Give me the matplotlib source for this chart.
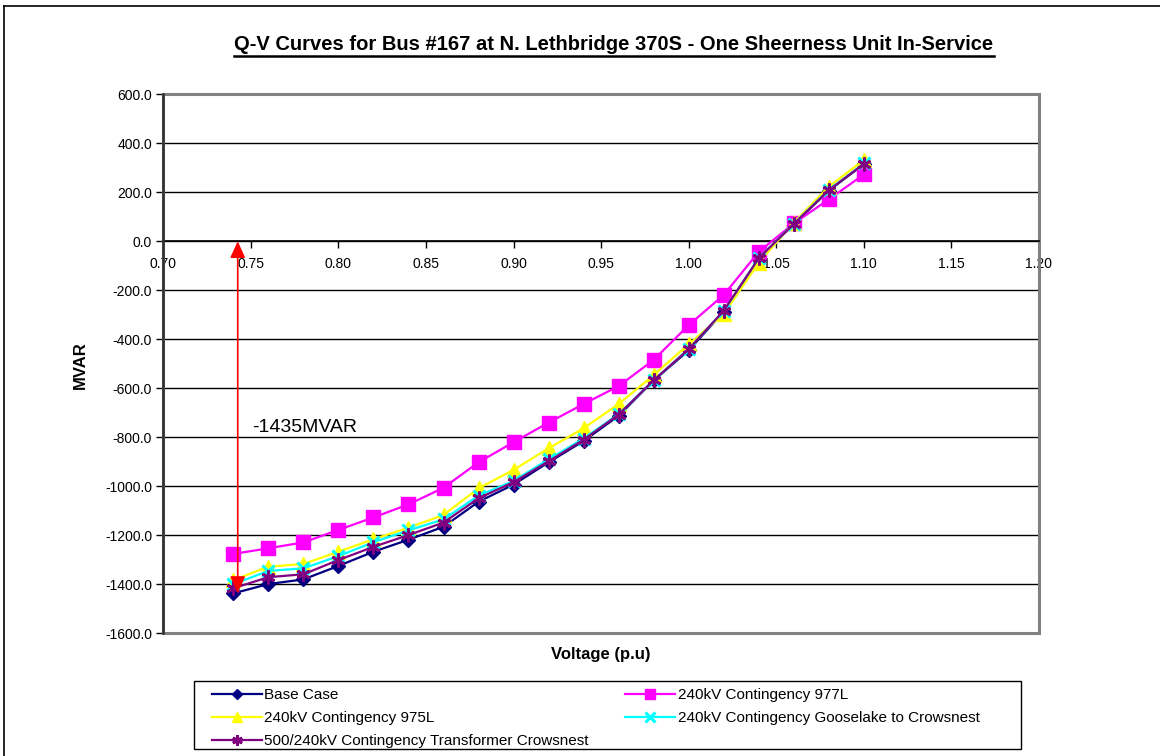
import matplotlib
matplotlib.use("Agg")
import matplotlib.pyplot as plt
from matplotlib.lines import Line2D
from matplotlib.patches import Rectangle

plt.rcParams['font.family'] = ['Liberation Sans', 'DejaVu Sans']

# ---- data ----
voltage = [0.74, 0.76, 0.78, 0.80, 0.82, 0.84, 0.86, 0.88, 0.90, 0.92,
           0.94, 0.96, 0.98, 1.00, 1.02, 1.04, 1.06, 1.08, 1.10]
base_case = [-1437, -1399, -1380, -1325, -1267, -1218, -1165, -1063, -993, -902,
             -815, -712, -568, -445, -287, -71, 70, 207, 315]
cont_977L = [-1276, -1253, -1229, -1178, -1127, -1074, -1006, -902, -820, -740,
             -664, -591, -484, -342, -219, -43, 73, 171, 273]
cont_975L = [-1383, -1328, -1317, -1267, -1216, -1169, -1117, -1008, -933, -845,
             -763, -664, -546, -420, -297, -87, 76, 223, 332]
cont_goose = [-1400, -1345, -1335, -1285, -1228, -1180, -1135, -1038, -978, -890,
              -805, -705, -568, -439, -284, -68, 72, 210, 318]
cont_xfmr = [-1416, -1371, -1359, -1301, -1247, -1199, -1148, -1049, -983, -898,
             -810, -707, -567, -440, -283, -69, 71, 209, 316]

labels = ["Base Case", "240kV Contingency 977L", "240kV Contingency 975L",
          "240kV Contingency Gooselake to Crowsnest",
          "500/240kV Contingency Transformer Crowsnest"]

y_ticks = [-1600, -1400, -1200, -1000, -800, -600, -400, -200, 0, 200, 400, 600]
x_ticks = [0.70, 0.75, 0.80, 0.85, 0.90, 0.95, 1.00, 1.05, 1.10, 1.15, 1.20]

arrow_v = 0.7425
arrow_q = -1435
annot_text = "-1435MVAR"

title = "Q-V Curves for Bus #167 at N. Lethbridge 370S - One Sheerness Unit In-Service"

# ---- figure ----
W, H = 1160, 756
fig = plt.figure(figsize=(W / 100, H / 100), dpi=100)
ax = fig.add_axes([163.3 / W, 1 - 633.3 / H, (1039 - 163.3) / W, (633.3 - 94.3) / H])

ax.set_xlim(0.70, 1.20)
ax.set_ylim(-1600, 600)

# grid
for yv in y_ticks:
    ax.axhline(yv, color='#000000', lw=1.0, zorder=1)

# plot border (gray)
ax.add_patch(Rectangle((0, 0), 1, 1, transform=ax.transAxes, fill=False,
                       edgecolor='#808080', lw=2.2, zorder=2, clip_on=False))

# series
h_base, = ax.plot(voltage, base_case, color='#000080', lw=1.6, marker='D', ms=7,
                  mfc='#000080', mec='#000080', zorder=3)
h_977, = ax.plot(voltage, cont_977L, color='#FF00FF', lw=1.6, marker='s', ms=10,
                 mfc='#FF00FF', mec='#FF00FF', zorder=3)
h_975, = ax.plot(voltage, cont_975L, color='#FFFF00', lw=1.6, marker='^', ms=10,
                 mfc='#FFFF00', mec='#FFFF00', zorder=3)
h_goose, = ax.plot(voltage, cont_goose, color='#00FFFF', lw=1.6, marker='x', ms=9,
                   mew=2.2, mec='#00FFFF', zorder=3)
h_xfmr, = ax.plot(voltage, cont_xfmr, color='#800080', lw=1.6, marker=(6, 2, 0), ms=10,
                  mew=2.0, mec='#800080', zorder=3)

# spines
ax.spines['top'].set_visible(False)
ax.spines['right'].set_visible(False)
ax.spines['bottom'].set_position(('data', 0))
ax.spines['bottom'].set_color('#000000')
ax.spines['bottom'].set_linewidth(1.2)
ax.spines['bottom'].set_zorder(2.5)
ax.spines['left'].set_color('#303030')
ax.spines['left'].set_linewidth(1.8)
ax.spines['left'].set_zorder(2.6)

ax.set_xticks(x_ticks)
ax.set_xticklabels([f"{v:.2f}" for v in x_ticks])
ax.set_yticks(y_ticks)
ax.set_yticklabels([f"{v:.1f}" for v in y_ticks])
ax.tick_params(axis='both', direction='out', length=5, width=1, labelsize=10,
               colors='#000000')
ax.tick_params(axis='x', pad=6)
ax.tick_params(axis='y', pad=3)

# annotation arrow
ax.annotate("", xy=(arrow_v, arrow_q), xytext=(arrow_v, 0),
            arrowprops=dict(arrowstyle='<|-|>,head_length=0.5,head_width=0.23',
                            color='#FF0000', lw=1.2, shrinkA=0, shrinkB=0,
                            mutation_scale=20),
            zorder=4)
ax.text(0.7509, -762, annot_text, fontsize=14, ha='left', va='center', color='#000000')

# labels
fig.text(80 / W, 1 - 365 / H, "MVAR", rotation=90, ha='center', va='center',
         fontsize=12, fontweight='bold')
fig.text(601 / W, 1 - 655 / H, "Voltage (p.u)", ha='center', va='center',
         fontsize=12, fontweight='bold')
t = fig.text(614 / W, 1 - 45 / H, title, ha='center', va='center',
             fontsize=14.5, fontweight='bold')

# legend (frame drawn separately to match the fixed box)
handles = [h_base, h_975, h_xfmr, h_977, h_goose]
leg_labels = [labels[0], labels[2], labels[4], labels[1], labels[3]]
leg = fig.legend(handles, leg_labels, ncol=2, loc='upper left',
                 bbox_to_anchor=(211.7 / W, 1 - 688 / H),
                 fontsize=11, frameon=False, handlelength=3.27, handletextpad=0.15,
                 columnspacing=2.42, labelspacing=0.6, borderpad=0,
                 borderaxespad=0, markerscale=0.75)
fig.add_artist(Rectangle((194 / W, 1 - 748.7 / H), (1021 - 194) / W, (748.7 - 680.7) / H,
                         transform=fig.transFigure, fill=False, edgecolor='#000000',
                         lw=1.0))

# outer chart border (top & left)
fig.add_artist(Line2D([4 / W, 4 / W], [0, 1 - 6 / H], transform=fig.transFigure,
                      color='#000000', lw=1.2))
fig.add_artist(Line2D([4 / W, 1], [1 - 6 / H, 1 - 6 / H], transform=fig.transFigure,
                      color='#000000', lw=1.2))

# underline title
fig.canvas.draw()
bb = t.get_window_extent()
uy = bb.y0 - 1
fig.add_artist(Line2D([bb.x0 / W, bb.x1 / W], [uy / H, uy / H], transform=fig.transFigure,
                      color='#000000', lw=1.8))

fig.savefig("out.png", dpi=100)
